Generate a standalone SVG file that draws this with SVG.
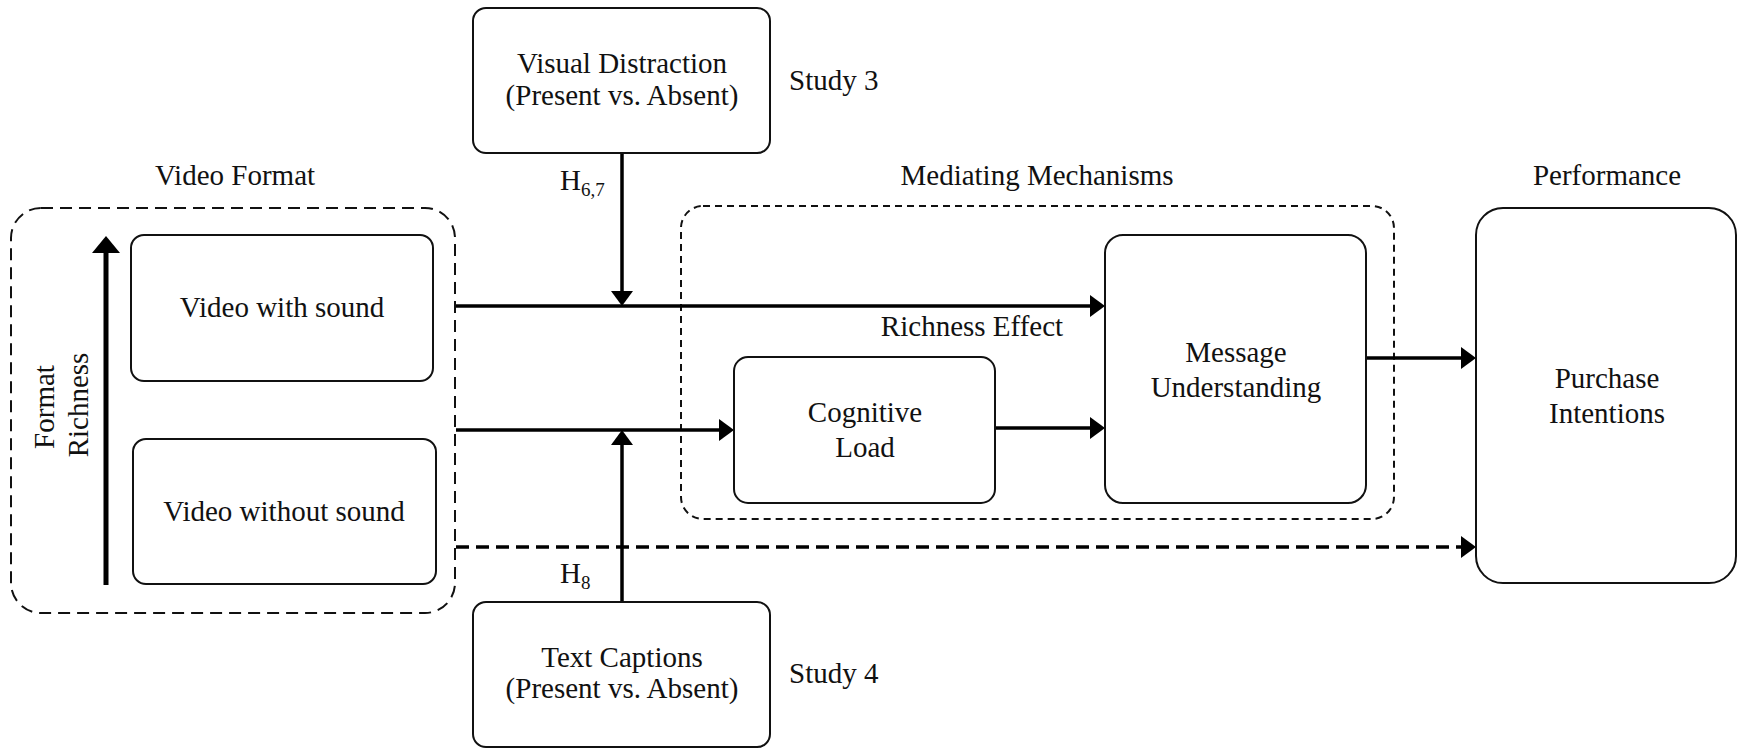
<svg xmlns="http://www.w3.org/2000/svg" width="1738" height="748" viewBox="0 0 1738 748">
<style>
text{font-family:"Liberation Serif","Times New Roman",serif;font-size:29px;fill:#111;}
.c{text-anchor:middle;}
.sub{font-size:19px;}
.box{fill:#fff;stroke:#111;stroke-width:2;}
.grp{fill:none;stroke:#111;stroke-width:2;}
.conn{fill:none;stroke:#000;stroke-width:3.5;}
.dash{stroke-dasharray:13 7;}
</style>
<defs>
<marker id="ah" viewBox="0 0 15 22" refX="3" refY="11" markerWidth="15" markerHeight="22" markerUnits="userSpaceOnUse" orient="auto">
<path d="M0,0 L15,11 L0,22 Z" fill="#000"/>
</marker>
<marker id="ahBig" viewBox="0 0 17 28" refX="3" refY="14" markerWidth="17" markerHeight="28" markerUnits="userSpaceOnUse" orient="auto">
<path d="M0,0 L17,14 L0,28 Z" fill="#000"/>
</marker>
</defs>
<rect width="1738" height="748" fill="#fff"/>

<g id="video-format-group">
<rect class="grp" x="11" y="208" width="444" height="405" rx="30" stroke-dasharray="12 7"/>
<text class="c" x="235" y="185">Video Format</text>
</g>
<g id="mediating-group">
<rect class="grp" x="681" y="206" width="713" height="313" rx="22" stroke-dasharray="7 5"/>
<text class="c" x="1037" y="185">Mediating Mechanisms</text>
</g>

<g id="connectors">
<line class="conn" x1="456" y1="306" x2="1093" y2="306" marker-end="url(#ah)"/>
<line class="conn" x1="456" y1="430" x2="722" y2="430" marker-end="url(#ah)"/>
<line class="conn dash" x1="456" y1="547" x2="1464" y2="547" marker-end="url(#ah)"/>
<line class="conn" x1="622" y1="153" x2="622" y2="294" marker-end="url(#ah)"/>
<line class="conn" x1="622" y1="602" x2="622" y2="442" marker-end="url(#ah)"/>
<line class="conn" x1="995" y1="428" x2="1093" y2="428" marker-end="url(#ah)"/>
<line class="conn" x1="1366" y1="358" x2="1464" y2="358" marker-end="url(#ah)"/>
<line x1="106" y1="585" x2="106" y2="250" stroke="#000" stroke-width="5" marker-end="url(#ahBig)"/>
<text x="560" y="190">H<tspan class="sub" dy="6">6,7</tspan></text>
<text x="560" y="583">H<tspan class="sub" dy="6">8</tspan></text>
<text class="c" x="972" y="336">Richness Effect</text>
</g>

<g id="format-richness">
<text class="c" transform="translate(54,407) rotate(-90)">Format</text>
<text class="c" transform="translate(88,405) rotate(-90)">Richness</text>
</g>

<g id="visual-distraction">
<rect class="box" x="473" y="8" width="297" height="145" rx="13"/>
<text class="c" x="622" y="73">Visual Distraction</text>
<text class="c" x="622" y="105">(Present vs. Absent)</text>
<text x="789" y="90">Study 3</text>
</g>

<g id="text-captions">
<rect class="box" x="473" y="602" width="297" height="145" rx="13"/>
<text class="c" x="622" y="667">Text Captions</text>
<text class="c" x="622" y="698">(Present vs. Absent)</text>
<text x="789" y="683">Study 4</text>
</g>

<g id="video-with-sound">
<rect class="box" x="131" y="235" width="302" height="146" rx="13"/>
<text class="c" x="282" y="317">Video with sound</text>
</g>

<g id="video-without-sound">
<rect class="box" x="133" y="439" width="303" height="145" rx="13"/>
<text class="c" x="284" y="521">Video without sound</text>
</g>

<g id="cognitive-load">
<rect class="box" x="734" y="357" width="261" height="146" rx="14"/>
<text class="c" x="865" y="422">Cognitive</text>
<text class="c" x="865" y="457">Load</text>
</g>

<g id="message-understanding">
<rect class="box" x="1105" y="235" width="261" height="268" rx="18"/>
<text class="c" x="1236" y="362">Message</text>
<text class="c" x="1236" y="397">Understanding</text>
</g>

<g id="purchase-intentions">
<rect class="box" x="1476" y="208" width="260" height="375" rx="27"/>
<text class="c" x="1607" y="185">Performance</text>
<text class="c" x="1607" y="388">Purchase</text>
<text class="c" x="1607" y="423">Intentions</text>
</g>
</svg>
